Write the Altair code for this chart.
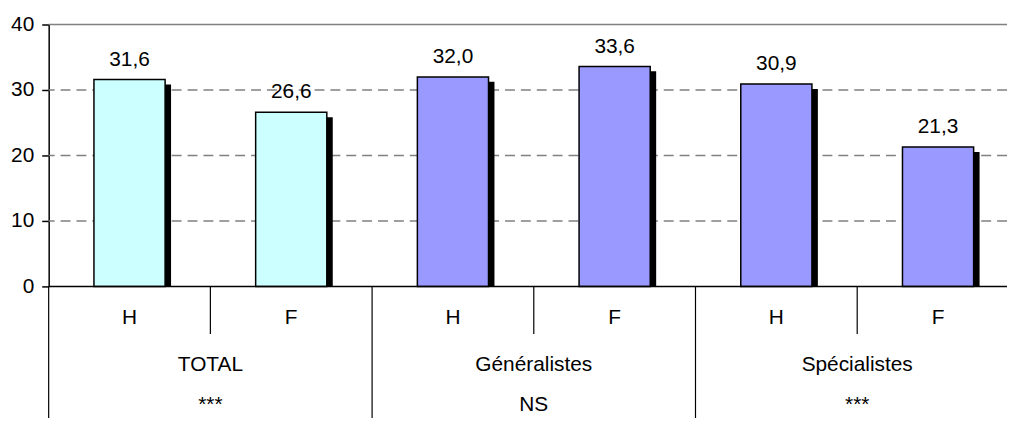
import altair as alt
import pandas as pd

# ---- data ----
group_names = ["TOTAL", "Généralistes", "Spécialistes"]
significance = ["***", "NS", "***"]
group_colors = ["#CCFFFF", "#9999FF", "#9999FF"]
sexes = ["H", "F"]
values = [31.6, 26.6, 32.0, 33.6, 30.9, 21.3]
y_ticks = [0, 10, 20, 30, 40]
grid_values = [10, 20, 30]
top_value = [40]

# ---- layout ----
W, H = 966, 264
SLOT = 163
x_max = W / SLOT
half = 0.22
FONT = "Liberation Sans"
FS = 21

rows = []
for i, v in enumerate(values):
    g = i // 2
    rows.append(dict(slot=i, sex=sexes[i % 2], group=group_names[g], value=v,
                     base=0,
                     label=f"{v:.1f}".replace(".", ","), color=group_colors[g],
                     center=i + 0.5, left=i + 0.5 - half, right=i + 0.5 + half))
bars = pd.DataFrame(rows)
groups = pd.DataFrame(dict(group=group_names, sig=significance,
                           center=[2 * k + 1 for k in range(len(group_names))],
                           edge=[2 * k for k in range(len(group_names))]))
inner = pd.DataFrame(dict(edge=[2 * k + 1 for k in range(len(group_names))]))

xs = alt.Scale(domain=[0, x_max], nice=False, zero=False)
ys = alt.Scale(domain=[0, 40], nice=False)
y_axis = alt.Axis(values=y_ticks, tickSize=7, tickColor="black", tickWidth=1.5,
                  domainColor="black", domainWidth=1.5,
                  labelFontSize=FS, labelFont=FONT, labelColor="black",
                  labelPadding=8, grid=False, title=None)


def Y(field):
    return alt.Y(field, scale=ys, axis=y_axis)


def X(field):
    return alt.X(field, scale=xs, axis=None)


grid = alt.Chart(pd.DataFrame({"v": grid_values})).mark_rule(
    color="#808080", strokeDash=[10, 6], strokeWidth=1.5
).encode(y=Y("v:Q"))

top = alt.Chart(pd.DataFrame({"v": top_value})).mark_rule(
    color="#808080", strokeWidth=1.5
).encode(y=Y("v:Q"))

base = alt.Chart(bars)

shadow = base.mark_rect(color="black", xOffset=6, x2Offset=6, yOffset=5).encode(
    x=X("left:Q"), x2="right:Q", y=Y("value:Q"), y2="base:Q",
)

bar = base.mark_rect(stroke="black", strokeWidth=1.5).encode(
    x=X("left:Q"), x2="right:Q", y=Y("value:Q"), y2="base:Q",
    color=alt.Color("color:N", scale=None),
)

vlabels = base.mark_text(font=FONT, fontSize=FS, color="black", baseline="alphabetic",
                         dy=-14).encode(
    x=X("center:Q"), y=Y("value:Q"), text="label:N",
)

zero_line = alt.Chart(pd.DataFrame({"v": [0]})).mark_rule(
    color="black", strokeWidth=1.5
).encode(y=Y("v:Q"))

group_rules = alt.Chart(groups).mark_rule(color="black", strokeWidth=1.2).encode(
    x=X("edge:Q"), y=alt.value(H), y2=alt.value(H + 139),
)

inner_rules = alt.Chart(inner).mark_rule(color="black", strokeWidth=1.2).encode(
    x=X("edge:Q"), y=alt.value(H), y2=alt.value(H + 48),
)

sex_labels = base.mark_text(font=FONT, fontSize=FS, color="black",
                            baseline="alphabetic").encode(
    x=X("center:Q"), y=alt.value(H + 38), text="sex:N",
)

group_labels = alt.Chart(groups).mark_text(font=FONT, fontSize=FS, color="black",
                                           baseline="alphabetic").encode(
    x=X("center:Q"), y=alt.value(H + 85), text="group:N",
)

sig_labels = alt.Chart(groups).mark_text(font=FONT, fontSize=FS, color="black",
                                         baseline="alphabetic").encode(
    x=X("center:Q"), y=alt.value(H + 126), text="sig:N",
)

chart = alt.layer(
    grid, top, shadow, bar, vlabels, zero_line, group_rules, inner_rules,
    sex_labels, group_labels, sig_labels
).properties(
    width=W, height=H,
    autosize=alt.AutoSizeParams(type="none"),
    padding={"left": 41, "top": 15, "right": 0, "bottom": 131},
    background="white",
).configure_view(stroke=None)

chart.save("out.html", embed_options={"renderer": "svg", "actions": False})
